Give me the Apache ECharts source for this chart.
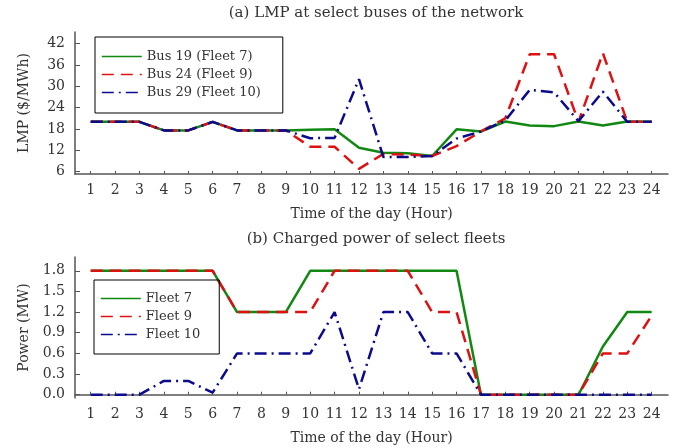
<!DOCTYPE html>
<html><head><meta charset="utf-8">
<script src="https://cdn.jsdelivr.net/npm/echarts@6/dist/echarts.min.js"></script>
<style>html,body{margin:0;padding:0;background:#fff}#c{width:685px;height:448px}</style>
</head><body><div id="c"></div>
<script>
var hours = [1,2,3,4,5,6,7,8,9,10,11,12,13,14,15,16,17,18,19,20,21,22,23,24];
var lmpTicks = [6,12,18,24,30,36,42];
var powTicks = [0,0.3,0.6,0.9,1.2,1.5,1.8];
var bus19 = [20,20,20,17.6,17.6,20,17.6,17.6,17.6,17.8,17.9,12.7,11.3,11.2,10.4,17.9,17.3,20.1,19,18.8,20.1,19,20.1,20];
var bus24 = [20,20,20,17.6,17.6,20,17.6,17.6,17.6,13,13,6.8,11,10.8,10.4,13.2,17.3,21,39,39,20,39.3,20,20];
var bus29 = [20,20,20,17.6,17.6,20,17.6,17.6,17.6,15.4,15.5,32,10.1,10.1,10.4,15.3,17.3,20.4,29,28.3,20.2,28.5,20,20];
var fleet7 = [1.8,1.8,1.8,1.8,1.8,1.8,1.2,1.2,1.2,1.8,1.8,1.8,1.8,1.8,1.8,1.8,0,0,0,0,0,0.7,1.2,1.2];
var fleet9 = [1.8,1.8,1.8,1.8,1.8,1.8,1.2,1.2,1.2,1.2,1.8,1.8,1.8,1.8,1.2,1.2,0,0,0,0,0,0.6,0.6,1.15];
var fleet10 = [0,0,0,0.2,0.2,0.03,0.6,0.6,0.6,0.6,1.2,0.08,1.2,1.2,0.6,0.6,0,0,0,0,0,0,0,0];

var FONT = 'DejaVu Serif';
var GREEN = '#118811', RED = '#dd1111', BLUE = '#0b0b8c';
function pairs(v){ return hours.map(function(h,i){ return [h, v[i]]; }); }
function xAxis(idx){
  return {gridIndex: idx, type:'value', min:0.356, max:24.67,
    name:'Time of the day (Hour)', nameLocation:'middle', nameGap:33,
    nameTextStyle:{fontFamily:FONT, fontSize:14, color:'#333'},
    axisLine:{lineStyle:{color:'#555', width:1.5}},
    axisTick:{inside:true, length:3, customValues:hours, lineStyle:{color:'#555'}},
    axisLabel:{customValues:hours, fontFamily:FONT, fontSize:14, color:'#333', margin:9},
    splitLine:{show:false}};
}
function yAxis(idx, min, max, ticks, name, fmt){
  return {gridIndex: idx, type:'value', min:min, max:max,
    name:name, nameLocation:'middle', nameGap:44,
    nameTextStyle:{fontFamily:FONT, fontSize:14, color:'#333'},
    axisLine:{show:true, lineStyle:{color:'#555', width:1.5}},
    axisTick:{show:true, inside:true, length:5, customValues:ticks, lineStyle:{color:'#555'}},
    axisLabel:{customValues:ticks, fontFamily:FONT, fontSize:14, color:'#333', margin:10, formatter:fmt},
    splitLine:{show:false}};
}
function line(name, data, color, type, xi){
  return {name:name, type:'line', xAxisIndex:xi, yAxisIndex:xi, data:pairs(data),
    showSymbol:false, symbol:'none', animation:false,
    lineStyle:{color:color, width:2.5, type:type}, itemStyle:{color:color}};
}
var DASH = [12,7], DASHDOT = [12,5,2,5];
var legendCommon = {orient:'vertical', itemWidth:40, itemHeight:14, itemGap:5,
  borderColor:'#000', borderWidth:1,
  lineStyle:{width:1.6},
  itemStyle:{color:'rgba(0,0,0,0)', borderColor:'rgba(0,0,0,0)', borderWidth:0, opacity:0},
  textStyle:{fontFamily:FONT, fontSize:13, color:'#333'}};
function legend(data, left, top, padding){
  var o = Object.assign({}, legendCommon);
  o.data = data; o.left = left; o.top = top; o.padding = padding;
  return o;
}
var chart = echarts.init(document.getElementById('c'));
chart.setOption({
  animation:false,
  title:[
    {text:'(a) LMP at select buses of the network', left:371, top:1, textAlign:'center',
     textStyle:{fontFamily:FONT, fontSize:15, fontWeight:'normal', color:'#333'}},
    {text:'(b) Charged power of select fleets', left:371, top:227, textAlign:'center',
     textStyle:{fontFamily:FONT, fontSize:15, fontWeight:'normal', color:'#333'}}
  ],
  grid:[
    {left:75, top:32, width:593, height:142},
    {left:75, top:257, width:593, height:141}
  ],
  xAxis:[xAxis(0), xAxis(1)],
  yAxis:[
    yAxis(0, 5.35, 45.25, lmpTicks, 'LMP ($/MWh)', function(v){return String(v);}),
    yAxis(1, -0.048, 2.0, powTicks, 'Power (MW)', function(v){return v.toFixed(1);})
  ],
  legend:[
    legend(['Bus 19 (Fleet 7)','Bus 24 (Fleet 9)','Bus 29 (Fleet 10)'], 95, 37, [13,22,14,6]),
    legend(['Fleet 7','Fleet 9','Fleet 10'], 94, 280, [12,19,13,6])
  ],
  series:[
    line('Bus 19 (Fleet 7)', bus19, GREEN, 'solid', 0),
    line('Bus 24 (Fleet 9)', bus24, RED, DASH, 0),
    line('Bus 29 (Fleet 10)', bus29, BLUE, DASHDOT, 0),
    line('Fleet 7', fleet7, GREEN, 'solid', 1),
    line('Fleet 9', fleet9, RED, DASH, 1),
    line('Fleet 10', fleet10, BLUE, DASHDOT, 1)
  ]
});
</script></body></html>
